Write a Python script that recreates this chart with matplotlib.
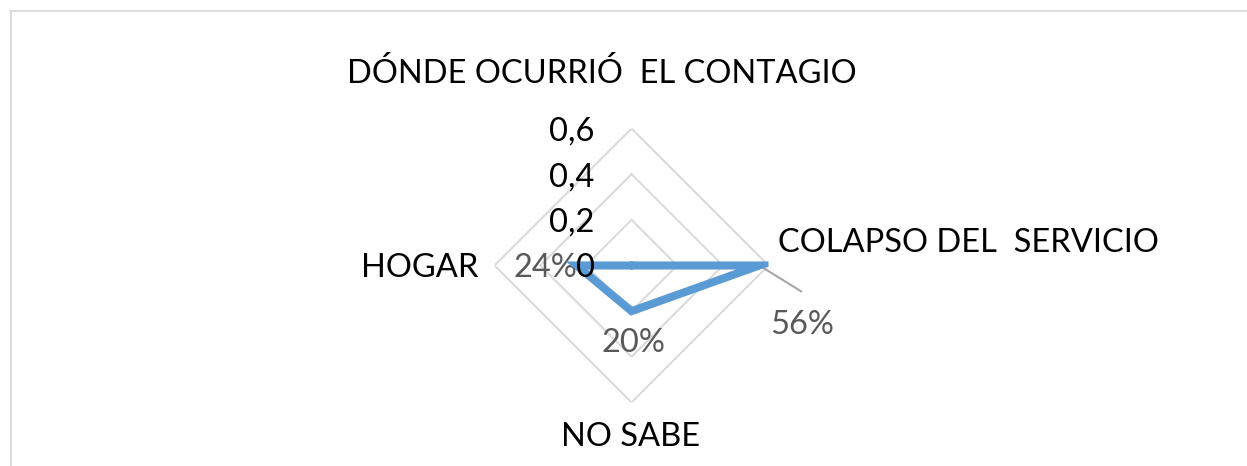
import numpy as np
import matplotlib
matplotlib.use("Agg")
import matplotlib.pyplot as plt

# Data (top axis has no category, value 0)
categories = ["", "COLAPSO DEL  SERVICIO", "NO SABE", "HOGAR"]
values = [0.0, 0.56, 0.20, 0.24]
value_labels = ["", "56%", "20%", "24%"]
rticks = [0, 0.2, 0.4, 0.6]
rtick_labels = ["0", "0,2", "0,4", "0,6"]
title = "DÓNDE OCURRIÓ  EL CONTAGIO"

plt.rcParams["font.family"] = ["Lato", "DejaVu Sans"]
FS = 23.5
grey = "#595959"

fig = plt.figure(figsize=(12.47, 4.66), dpi=100)
ax = fig.add_axes([0.3966, 0.1363, 0.2197, 0.588], projection="polar")
ax.set_theta_offset(np.pi / 2)
ax.set_theta_direction(-1)
ax.set_ylim(0, 0.6)
ax.grid(False)
ax.spines["polar"].set_visible(False)
ax.set_xticks([])
ax.set_yticks([])
ax.patch.set_alpha(0)

n = len(categories)
theta = np.arange(n) * 2 * np.pi / n
theta_c = np.append(theta, theta[0])

# diamond gridlines
for lvl in rticks[1:]:
    ax.plot(theta_c, [lvl] * (n + 1), color="#D9D9D9", lw=1.4, zorder=1)

# series
vals_c = np.append(values, values[0])
ax.plot(theta_c, vals_c, color="#5B9BD5", lw=5.8, solid_joinstyle="miter",
        solid_capstyle="round", zorder=3)

# radial tick labels on the top axis
for lvl, lab in zip(rticks, rtick_labels):
    ax.annotate(lab, xy=(0, lvl), xytext=(-37, -12), textcoords="offset pixels",
                ha="right", va="baseline", fontsize=FS, color="black", zorder=4)

# category labels
cat_offsets = {1: (9, 13, "left"), 2: (-1, -44, "center"), 3: (-16, -12, "right")}
for i, (dx, dy, ha) in cat_offsets.items():
    ax.annotate(categories[i], xy=(theta[i], 0.6), xytext=(dx, dy),
                textcoords="offset pixels", ha=ha, va="baseline",
                fontsize=FS, color="black", annotation_clip=False)

# data labels
lab_offsets = {1: (11, -69, "left"), 2: (2, -41, "center"), 3: (1, -12, "right")}
for i, (dx, dy, ha) in lab_offsets.items():
    ax.annotate(value_labels[i], xy=(theta[i], values[i]), xytext=(dx, dy),
                textcoords="offset pixels", ha=ha, va="baseline",
                fontsize=FS, color=grey, annotation_clip=False, zorder=2)

# leader line for the 56% label
ax.annotate("", xy=(theta[1], values[1]), xytext=(42, -26),
            textcoords="offset pixels", annotation_clip=False, zorder=2,
            arrowprops=dict(arrowstyle="-", color="#A6A6A6", lw=1.5,
                            shrinkA=0, shrinkB=0))

fig.text(602 / 1247, 1 - 83 / 466, title, ha="center", va="baseline",
         fontsize=FS, color="black")

# chart frame
fig.add_artist(plt.Line2D([10 / 1247, 1], [1 - 10.5 / 466] * 2,
                          transform=fig.transFigure, color="#DDDDDD", lw=1.6))
fig.add_artist(plt.Line2D([10.5 / 1247] * 2, [0, 1 - 10.5 / 466],
                          transform=fig.transFigure, color="#DDDDDD", lw=1.6))

fig.savefig("out.png", dpi=100)
